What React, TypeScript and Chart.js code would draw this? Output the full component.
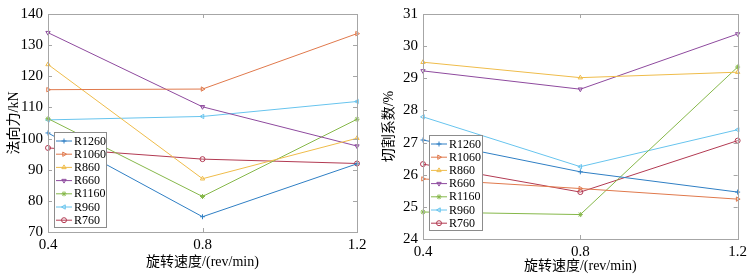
import React, { useEffect, useRef } from "react";
import { Chart, registerables } from "chart.js";
import { drawPoint } from "chart.js/helpers";

Chart.register(...registerables);

const speeds = ["0.4", "0.8", "1.2"];
const seriesNames = ["R1260", "R1060", "R860", "R660", "R1160", "R960", "R760"];
const seriesColors = ["#2f7fc4", "#e0794c", "#efbc4a", "#8e4a9e", "#86b84a", "#67c4ee", "#b23a52"];
const pointStyles = ["cross", "triangle", "triangle", "triangle", "star", "triangle", "circle"];
const pointRotations = [0, 90, 0, 180, 0, 270, 0];

// normal force, kN
const forceR1260 = [101.8, 74.9, 91.9];
const forceR1060 = [115.7, 115.9, 133.7];
const forceR860 = [123.8, 87.1, 100.1];
const forceR660 = [134.0, 110.2, 97.6];
const forceR1160 = [106.4, 81.4, 106.2];
const forceR960 = [106.0, 107.1, 111.9];
const forceR760 = [97.0, 93.4, 92.0];
const forceTicks = [70, 80, 90, 100, 110, 120, 130, 140];

// cutting coefficient, %
const coefR1260 = [27.08, 26.09, 25.46];
const coefR1060 = [25.87, 25.57, 25.24];
const coefR860 = [29.5, 29.02, 29.19];
const coefR660 = [29.23, 28.66, 30.38];
const coefR1160 = [24.84, 24.76, 29.35];
const coefR960 = [27.8, 26.25, 27.4];
const coefR760 = [26.33, 25.46, 27.06];
const coefTicks = [24, 25, 26, 27, 28, 29, 30, 31];

const SERIF = '"Liberation Serif", "Times New Roman", "Noto Sans CJK SC", serif';

type PanelProps = {
  series: number[][];
  yTicks: number[];
  yTitle: string;
  width: number;
  left: number;
  padTop: number;
  padRight: number;
  xHeight: number;
  xTickPad: number;
  xTitlePad: number;
  legendX: number;
  legendY: number;
  legendW: number;
  legendH: number;
};

function Panel(p: PanelProps) {
  const ref = useRef<HTMLCanvasElement | null>(null);
  useEffect(() => {
    const canvas = ref.current!;
    const frame = {
      id: "frame",
      afterDraw(chart: any) {
        const { ctx, chartArea: a } = chart;
        const xs = chart.scales.x;
        const ys = chart.scales.y;
        ctx.save();
        ctx.strokeStyle = "#a6a6a6";
        ctx.lineWidth = 1;
        ctx.strokeRect(Math.round(a.left) + 0.5, Math.round(a.top) + 0.5, Math.round(a.right - a.left), Math.round(a.bottom - a.top));
        ctx.beginPath();
        p.yTicks.forEach((v) => {
          const y = Math.round(ys.getPixelForValue(v)) + 0.5;
          ctx.moveTo(a.left, y);
          ctx.lineTo(a.left + 4, y);
          ctx.moveTo(a.right - 4, y);
          ctx.lineTo(a.right, y);
        });
        speeds.forEach((_, i) => {
          const x = Math.round(xs.getPixelForValue(i)) + 0.5;
          ctx.moveTo(x, a.bottom);
          ctx.lineTo(x, a.bottom - 4);
          ctx.moveTo(x, a.top);
          ctx.lineTo(x, a.top + 4);
        });
        ctx.stroke();
        // legend
        ctx.fillStyle = "#ffffff";
        ctx.fillRect(p.legendX, p.legendY, p.legendW, p.legendH);
        ctx.strokeStyle = "#8c8c8c";
        ctx.strokeRect(p.legendX + 0.5, p.legendY + 0.5, p.legendW, p.legendH);
        ctx.font = "12px " + SERIF;
        ctx.textBaseline = "middle";
        ctx.textAlign = "left";
        seriesNames.forEach((name, i) => {
          const y = p.legendY + 9 + i * 13.2;
          ctx.strokeStyle = seriesColors[i];
          ctx.lineWidth = 1;
          ctx.beginPath();
          ctx.moveTo(p.legendX + 2, y);
          ctx.lineTo(p.legendX + 18, y);
          ctx.stroke();
          ctx.fillStyle = "rgba(0,0,0,0)";
          drawPoint(ctx, { pointStyle: pointStyles[i], rotation: pointRotations[i], radius: 2.5, borderWidth: 1 } as any, p.legendX + 10, y);
          ctx.fillStyle = "#000000";
          ctx.fillText(name, p.legendX + 20, y + 0.5);
        });
        ctx.restore();
      },
    };
    const chart = new Chart(canvas, {
      type: "line",
      data: {
        labels: speeds,
        datasets: seriesNames.map((name, i) => ({
          label: name,
          data: p.series[i],
          borderColor: seriesColors[i],
          backgroundColor: "transparent",
          pointBorderColor: seriesColors[i],
          pointBackgroundColor: "transparent",
          borderWidth: 1,
          pointStyle: pointStyles[i] as any,
          rotation: pointRotations[i],
          pointRadius: 2.5,
          pointBorderWidth: 1,
          tension: 0,
        })),
      },
      options: {
        animation: false,
        responsive: false,
        maintainAspectRatio: false,
        layout: { padding: { left: 0, right: p.padRight, top: p.padTop, bottom: 0 } },
        plugins: { legend: { display: false }, tooltip: { enabled: false } },
        scales: {
          x: {
            type: "category",
            offset: false,
            grid: { display: false, drawTicks: false },
            border: { display: false },
            ticks: { color: "#000", font: { family: SERIF, size: 15 }, padding: p.xTickPad, maxRotation: 0 },
            title: { display: true, text: "旋转速度/(rev/min)", color: "#000", font: { family: SERIF, size: 14 }, padding: { top: 0, bottom: p.xTitlePad } },
            afterFit: (s: any) => { s.height = p.xHeight; },
          },
          y: {
            type: "linear",
            min: p.yTicks[0],
            max: p.yTicks[p.yTicks.length - 1],
            afterBuildTicks: (s: any) => { s.ticks = p.yTicks.map((v) => ({ value: v })); },
            grid: { display: false, drawTicks: false },
            border: { display: false },
            ticks: { color: "#000", font: { family: SERIF, size: 15 }, padding: 5 },
            title: { display: true, text: p.yTitle, color: "#000", font: { family: SERIF, size: 14 }, padding: { top: 6, bottom: 0 } },
            afterFit: (s: any) => { s.width = 48; },
          },
        },
      },
      plugins: [frame],
    });
    return () => chart.destroy();
  }, []);
  return (
    <canvas
      ref={ref}
      width={p.width}
      height={276}
      style={{ position: "absolute", left: p.left, top: 0, width: p.width, height: 276 }}
    />
  );
}

export default function App() {
  return (
    <div style={{ position: "fixed", left: 0, top: 0, width: 751, height: 276, background: "#fff" }}>
      <Panel
        series={[forceR1260, forceR1060, forceR860, forceR660, forceR1160, forceR960, forceR760]}
        yTicks={forceTicks}
        yTitle="法向力/kN"
        width={375}
        left={0}
        padTop={11}
        padRight={18}
        xHeight={44}
        xTickPad={4}
        xTitlePad={5}
        legendX={54}
        legendY={132}
        legendW={52}
        legendH={95}
      />
      <Panel
        series={[coefR1260, coefR1060, coefR860, coefR660, coefR1160, coefR960, coefR760]}
        yTicks={coefTicks}
        yTitle="切割系数/%"
        width={376}
        left={375}
        padTop={9}
        padRight={10}
        xHeight={37}
        xTickPad={4}
        xTitlePad={1}
        legendX={54}
        legendY={135}
        legendW={53}
        legendH={95}
      />
    </div>
  );
}
